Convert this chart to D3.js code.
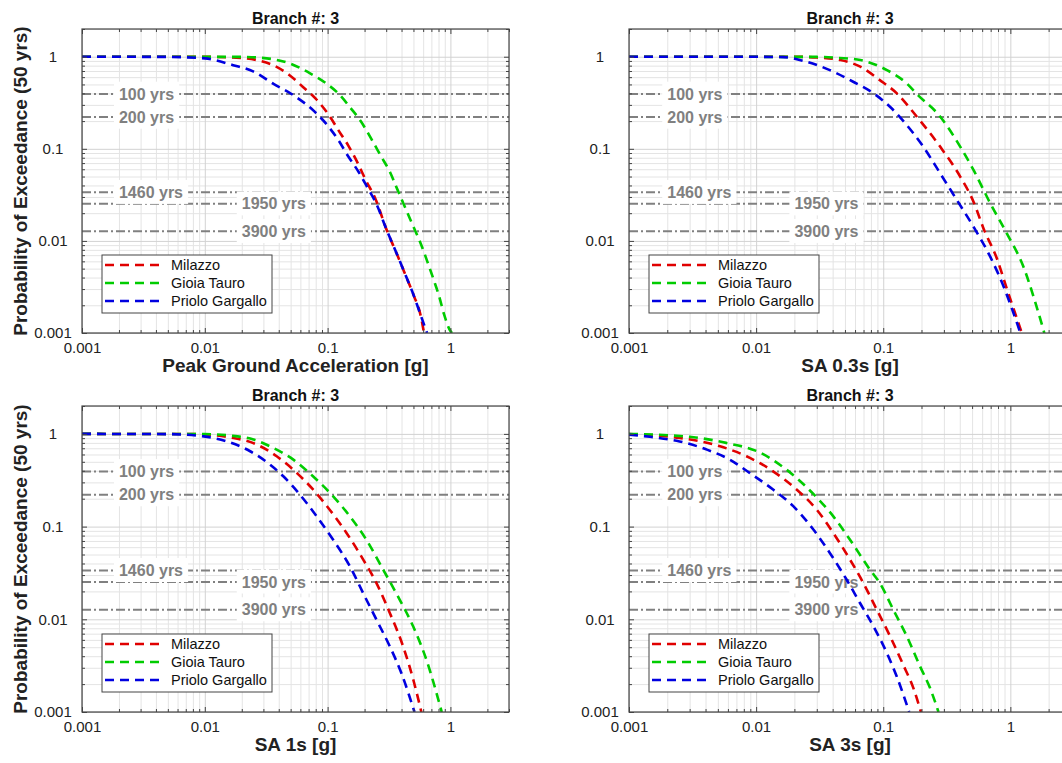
<!DOCTYPE html>
<html>
<head>
<meta charset="utf-8">
<script src="https://cdn.jsdelivr.net/npm/d3@7"></script>
<style>
    body { margin: 0; background: #fff; }
    svg { display: block; font-family: "Liberation Sans", Arial, Helvetica, sans-serif; }
</style>
</head>
<body>
<div id="chart"></div>
<script>
// hazard curves, [intensity (g), probability of exceedance in 50 yrs]
const pgaMilazzo = [[0.001,1],[0.01,0.998],[0.02,0.97],[0.0265,0.92],[0.036,0.81],[0.049,0.63],[0.063,0.47],[0.08,0.35],[0.102,0.234],[0.126,0.15],[0.147,0.109],[0.176,0.07],[0.204,0.046],[0.244,0.029],[0.305,0.0128],[0.365,0.0073],[0.436,0.0041],[0.506,0.0025],[0.569,0.0016],[0.61,0.001]];
const pgaGioia = [[0.001,1],[0.02,0.995],[0.032,0.96],[0.049,0.846],[0.072,0.66],[0.098,0.51],[0.123,0.396],[0.154,0.277],[0.187,0.198],[0.227,0.128],[0.271,0.084],[0.324,0.055],[0.369,0.0365],[0.428,0.023],[0.496,0.0146],[0.576,0.0092],[0.648,0.006],[0.73,0.0038],[0.81,0.0025],[0.887,0.0016],[1.0,0.00105],[1.03,0.001]];
const pgaPriolo = [[0.001,1],[0.005,0.995],[0.01,0.96],[0.017,0.81],[0.025,0.69],[0.036,0.51],[0.053,0.38],[0.078,0.255],[0.099,0.182],[0.122,0.125],[0.147,0.083],[0.179,0.056],[0.214,0.0367],[0.248,0.0257],[0.305,0.0128],[0.365,0.0073],[0.436,0.0041],[0.506,0.0025],[0.569,0.0016],[0.645,0.001]];

const sa03Milazzo = [[0.001,1],[0.02,0.998],[0.03,0.98],[0.046,0.92],[0.066,0.78],[0.094,0.557],[0.128,0.4],[0.184,0.223],[0.281,0.105],[0.404,0.0497],[0.514,0.0265],[0.617,0.0135],[0.785,0.0064],[0.94,0.003],[1.08,0.0017],[1.23,0.001]];
const sa03Gioia = [[0.001,1],[0.03,0.995],[0.045,0.97],[0.066,0.92],[0.107,0.716],[0.153,0.513],[0.184,0.393],[0.281,0.223],[0.404,0.105],[0.514,0.0586],[0.696,0.0255],[0.94,0.012],[1.27,0.0052],[1.58,0.0021],[1.85,0.001]];
const sa03Priolo = [[0.001,1],[0.01,0.998],[0.0164,0.99],[0.025,0.88],[0.038,0.716],[0.058,0.535],[0.084,0.4],[0.113,0.286],[0.153,0.181],[0.207,0.105],[0.281,0.054],[0.38,0.0277],[0.514,0.0142],[0.696,0.0067],[0.885,0.0032],[1.05,0.0017],[1.2,0.001]];

const sa1Milazzo = [[0.001,1],[0.008,0.995],[0.0171,0.905],[0.0265,0.767],[0.0385,0.574],[0.056,0.38],[0.0764,0.25],[0.104,0.152],[0.143,0.085],[0.195,0.044],[0.25,0.0246],[0.321,0.0117],[0.412,0.0051],[0.5,0.0022],[0.58,0.001]];
const sa1Gioia = [[0.001,1],[0.01,0.995],[0.016,0.96],[0.0249,0.87],[0.036,0.706],[0.0526,0.528],[0.076,0.349],[0.111,0.212],[0.152,0.129],[0.207,0.072],[0.284,0.0342],[0.387,0.0162],[0.497,0.0084],[0.638,0.00365],[0.85,0.001]];
const sa1Priolo = [[0.001,1],[0.005,0.995],[0.0098,0.94],[0.0151,0.83],[0.0234,0.65],[0.034,0.466],[0.0436,0.349],[0.0596,0.221],[0.0814,0.129],[0.111,0.072],[0.152,0.0372],[0.195,0.0191],[0.25,0.0099],[0.321,0.0051],[0.4,0.0026],[0.51,0.001]];

const sa3Milazzo = [[0.001,0.995],[0.0025,0.905],[0.0052,0.736],[0.0084,0.574],[0.0136,0.395],[0.0209,0.25],[0.03,0.152],[0.0405,0.085],[0.0548,0.044],[0.0698,0.0246],[0.089,0.0127],[0.113,0.0066],[0.144,0.0032],[0.173,0.0018],[0.198,0.001]];
const sa3Gioia = [[0.001,1],[0.003,0.93],[0.0058,0.8],[0.0107,0.63],[0.0174,0.41],[0.0282,0.225],[0.0405,0.129],[0.0548,0.072],[0.0788,0.0342],[0.094,0.0246],[0.12,0.0127],[0.153,0.0066],[0.195,0.0031],[0.234,0.0018],[0.272,0.001]];
const sa3Priolo = [[0.001,0.98],[0.00146,0.93],[0.0025,0.83],[0.0041,0.677],[0.0062,0.528],[0.0089,0.379],[0.0136,0.251],[0.0196,0.166],[0.0282,0.093],[0.038,0.052],[0.0516,0.0267],[0.0658,0.0149],[0.0838,0.0084],[0.107,0.0043],[0.128,0.0024],[0.16,0.001]];

const seriesNames = ["Milazzo", "Gioia Tauro", "Priolo Gargallo"];
const seriesColors = ["#e00000", "#00cc00", "#0000e0"];

// return period reference lines
const returnLabels = ["100 yrs", "200 yrs", "1460 yrs", "1950 yrs", "3900 yrs"];
const returnProbs = [0.393, 0.221, 0.0337, 0.0253, 0.0127];
const returnLabelX = [0.002, 0.002, 0.002, 0.02, 0.02];

const xTicks = [0.001, 0.01, 0.1, 1];
const yTicks = [0.001, 0.01, 0.1, 1];
const xDomain = [0.001, 3];
const yDomain = [0.001, 2];

const panels = [
    {title: "Branch #: 3", xLabel: "Peak Ground Acceleration [g]", curves: [pgaMilazzo, pgaGioia, pgaPriolo], left: 82, top: 29, width: 427, height: 304, yLabel: true},
    {title: "Branch #: 3", xLabel: "SA 0.3s [g]", curves: [sa03Milazzo, sa03Gioia, sa03Priolo], left: 629, top: 29, width: 442, height: 304, yLabel: false},
    {title: "Branch #: 3", xLabel: "SA 1s [g]", curves: [sa1Milazzo, sa1Gioia, sa1Priolo], left: 82, top: 406, width: 427, height: 306, yLabel: true},
    {title: "Branch #: 3", xLabel: "SA 3s [g]", curves: [sa3Milazzo, sa3Gioia, sa3Priolo], left: 629, top: 406, width: 442, height: 306, yLabel: false}
];

const svg = d3.select("#chart").append("svg")
    .attr("width", 1062)
    .attr("height", 763);

const isMajor = v => Math.abs(Math.log10(v) - Math.round(Math.log10(v))) < 1e-6;

panels.forEach((p, i) => drawPanel(p, i));

function drawPanel(p, idx) {
    const x = d3.scaleLog().domain(xDomain).range([0, p.width]);
    const y = d3.scaleLog().domain(yDomain).range([p.height, 0]);

    const g = svg.append("g").attr("transform", `translate(${p.left},${p.top})`);

    g.append("clipPath").attr("id", "clip" + idx)
        .append("rect").attr("width", p.width).attr("height", p.height);

    const xAll = x.ticks().filter(v => v >= xDomain[0] && v <= xDomain[1]);
    const yAll = y.ticks().filter(v => v >= yDomain[0] && v <= yDomain[1]);
    const xMinor = xAll.filter(v => !isMajor(v));
    const yMinor = yAll.filter(v => !isMajor(v));
    const xMajor = xAll.filter(isMajor);
    const yMajor = yAll.filter(isMajor);

    // grid
    const grid = (sel, color) => {
        sel.select(".domain").remove();
        sel.selectAll("line").attr("stroke", color).attr("stroke-width", 1);
    };
    g.append("g")
        .call(d3.axisBottom(x).tickValues(xMinor).tickSize(p.height).tickFormat(""))
        .call(grid, "#e4e4e4");
    g.append("g")
        .call(d3.axisRight(y).tickValues(yMinor).tickSize(p.width).tickFormat(""))
        .call(grid, "#e4e4e4");
    g.append("g")
        .call(d3.axisBottom(x).tickValues(xMajor).tickSize(p.height).tickFormat(""))
        .call(grid, "#d2d2d2");
    g.append("g")
        .call(d3.axisRight(y).tickValues(yMajor).tickSize(p.width).tickFormat(""))
        .call(grid, "#d2d2d2");

    // return period lines
    const ref = g.append("g").attr("clip-path", `url(#clip${idx})`);
    returnProbs.forEach(pr => {
        ref.append("line")
            .attr("x1", 0).attr("x2", p.width)
            .attr("y1", y(pr)).attr("y2", y(pr))
            .attr("stroke", "#808080")
            .attr("stroke-width", 2)
            .attr("stroke-dasharray", "9,3,2,3");
    });
    returnLabels.forEach((lab, k) => {
        const lg = ref.append("g");
        const bg = lg.append("rect").attr("fill", "#fff");
        const t = lg.append("text")
            .attr("x", x(returnLabelX[k]))
            .attr("y", y(returnProbs[k]))
            .attr("dy", "0.35em")
            .attr("fill", "#808080")
            .style("font-size", "16px")
            .style("font-weight", "bold")
            .text(lab);
        const bb = t.node().getBBox();
        bg.attr("x", bb.x - 5).attr("y", bb.y - 4)
            .attr("width", bb.width + 10).attr("height", bb.height + 7);
    });

    // curves
    const line = d3.line()
        .x(d => x(d[0]))
        .y(d => y(d[1]))
        .curve(d3.curveMonotoneX);

    g.append("g").attr("clip-path", `url(#clip${idx})`)
        .selectAll("path")
        .data(p.curves)
        .join("path")
        .attr("d", line)
        .attr("fill", "none")
        .attr("stroke", (d, k) => seriesColors[k])
        .attr("stroke-width", 2.6)
        .attr("stroke-dasharray", "9,6");

    // inward ticks on all sides
    const ticks = (sel) => {
        sel.select(".domain").remove();
        sel.selectAll("line").attr("stroke", "#444").attr("stroke-width", 1);
    };
    g.append("g").attr("transform", `translate(0,${p.height})`)
        .call(d3.axisBottom(x).tickValues(xMinor).tickSize(-3).tickFormat("")).call(ticks);
    g.append("g")
        .call(d3.axisTop(x).tickValues(xMinor).tickSize(-3).tickFormat("")).call(ticks);
    g.append("g").attr("transform", `translate(0,${p.height})`)
        .call(d3.axisBottom(x).tickValues(xMajor).tickSize(-5).tickFormat("")).call(ticks);
    g.append("g")
        .call(d3.axisTop(x).tickValues(xMajor).tickSize(-5).tickFormat("")).call(ticks);
    g.append("g")
        .call(d3.axisLeft(y).tickValues(yMinor).tickSize(-3).tickFormat("")).call(ticks);
    g.append("g").attr("transform", `translate(${p.width},0)`)
        .call(d3.axisRight(y).tickValues(yMinor).tickSize(-3).tickFormat("")).call(ticks);
    g.append("g")
        .call(d3.axisLeft(y).tickValues(yMajor).tickSize(-5).tickFormat("")).call(ticks);
    g.append("g").attr("transform", `translate(${p.width},0)`)
        .call(d3.axisRight(y).tickValues(yMajor).tickSize(-5).tickFormat("")).call(ticks);

    // box
    g.append("rect")
        .attr("width", p.width).attr("height", p.height)
        .attr("fill", "none").attr("stroke", "#444").attr("stroke-width", 1.2);

    // tick labels
    g.append("g").attr("transform", `translate(0,${p.height})`)
        .call(d3.axisBottom(x).tickValues(xTicks).tickSize(0).tickPadding(9).tickFormat(d3.format("~g")))
        .call(sel => sel.select(".domain").remove())
        .call(sel => sel.selectAll("text").attr("fill", "#222").style("font-size", "15px"));
    g.append("g")
        .call(d3.axisLeft(y).tickValues(yTicks).tickSize(0).tickFormat(d3.format("~g")))
        .call(sel => sel.select(".domain").remove())
        .call(sel => sel.selectAll("text")
            .attr("x", -29).attr("text-anchor", "middle")
            .attr("fill", "#222").style("font-size", "15px"));
    g.selectAll(".tick text").attr("font-family", null).attr("font-size", null);

    // title and labels
    g.append("text")
        .attr("x", p.width / 2).attr("y", -5)
        .attr("text-anchor", "middle")
        .style("font-size", "16px").style("font-weight", "bold")
        .attr("fill", "#111")
        .text(p.title);
    g.append("text")
        .attr("x", p.width / 2).attr("y", p.height + 39)
        .attr("text-anchor", "middle")
        .style("font-size", "19px").style("font-weight", "bold")
        .attr("fill", "#222")
        .text(p.xLabel);
    if (p.yLabel) {
        g.append("text")
            .attr("transform", `translate(${27 - p.left},${p.height / 2}) rotate(-90)`)
            .attr("text-anchor", "middle")
            .style("font-size", "19px").style("font-weight", "bold")
            .attr("fill", "#222")
            .text("Probability of Exceedance (50 yrs)");
    }

    // legend
    const lgd = g.append("g").attr("transform", `translate(20,${p.height - 78})`);
    lgd.append("rect")
        .attr("width", 170).attr("height", 58)
        .attr("fill", "#fff").attr("stroke", "#444").attr("stroke-width", 1);
    seriesNames.forEach((name, k) => {
        const ry = 10 + k * 18;
        lgd.append("line")
            .attr("x1", 3).attr("x2", 63)
            .attr("y1", ry).attr("y2", ry)
            .attr("stroke", seriesColors[k])
            .attr("stroke-width", 2.6)
            .attr("stroke-dasharray", "9,6");
        lgd.append("text")
            .attr("x", 69).attr("y", ry).attr("dy", "0.35em")
            .style("font-size", "14.5px")
            .attr("fill", "#111")
            .text(name);
    });
}
</script>
</body>
</html>
